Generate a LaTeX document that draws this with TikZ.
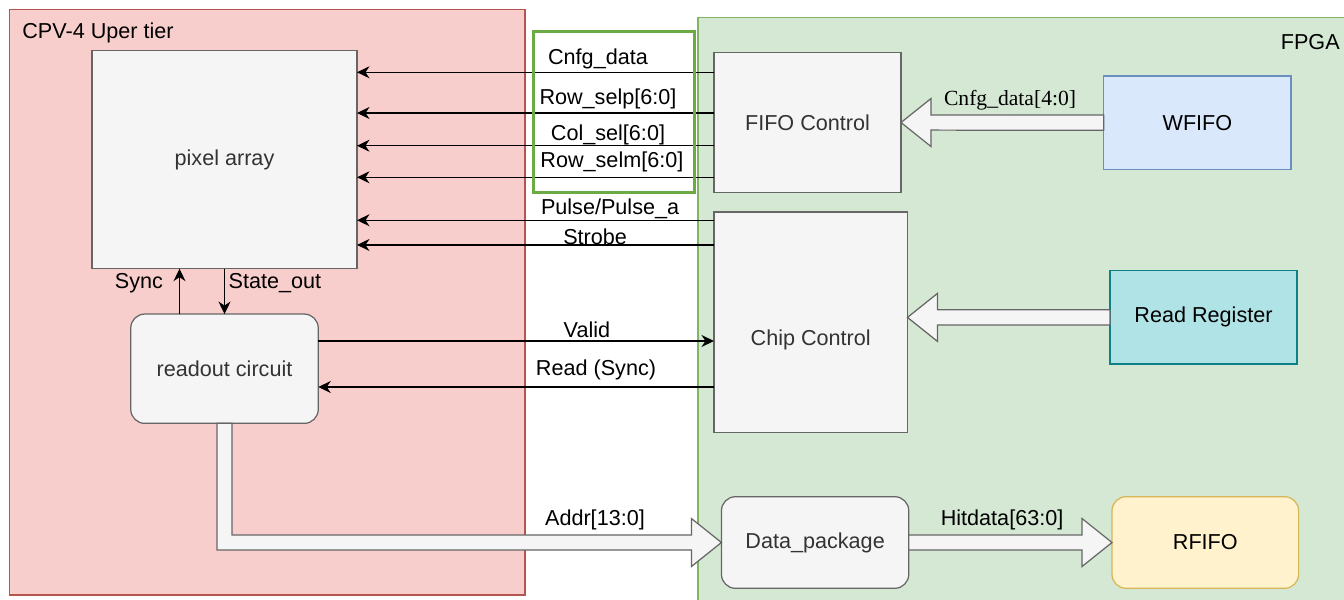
\documentclass[tikz,border=0pt]{standalone}
\usepackage{fontspec}
\setmainfont{Liberation Sans}
\newfontfamily\timesf{Liberation Serif}
\usetikzlibrary{arrows.meta,calc}

\definecolor{tierfill}{HTML}{F8CECC}
\definecolor{tierline}{HTML}{B85450}
\definecolor{fpgafill}{HTML}{D5E8D4}
\definecolor{fpgaline}{HTML}{82B366}
\definecolor{hiline}{RGB}{108,170,68}
\definecolor{boxfill}{HTML}{F5F5F5}
\definecolor{boxline}{HTML}{666666}
\definecolor{boxtext}{HTML}{333333}
\definecolor{wfill}{HTML}{DAE8FC}
\definecolor{wline}{HTML}{6C8EBF}
\definecolor{rfill}{HTML}{B0E3E6}
\definecolor{rline}{HTML}{0E8088}
\definecolor{ffill}{HTML}{FFF2CC}
\definecolor{fline}{HTML}{D6B656}

\newcommand\pxu{0.02cm}
\newcommand\dfont{\fontsize{12.3pt}{14pt}\selectfont}

% hollow wide arrow: start, tip, head length (sign gives direction)
\newcommand\fatarrow[3]{%
  \draw[fat] ($(#1)+(0,-7.6)$) -- ($(#2)+(#3,-7.6)$) -- ($(#2)+(#3,-24)$) -- (#2)
    -- ($(#2)+(#3,24)$) -- ($(#2)+(#3,7.6)$) -- ($(#1)+(0,7.6)$) -- cycle;}

\begin{document}
\begin{tikzpicture}[x=0.02cm,y=-0.02cm,>={Stealth[length=2.5mm,width=2.4mm,inset=0.8mm]},
  gbox/.style={draw=boxline,fill=boxfill,line width=0.7pt,text=boxtext,
    outer sep=0pt,inner sep=0pt,font=\dfont},
  sig/.style={->,line width=0.7pt},
  lbl/.style={font=\dfont,inner sep=0pt},
  fat/.style={draw=boxline,fill=boxfill,line width=0.7pt,line join=miter}]

  \useasboundingbox (0,0) rectangle (1344,599);

  % ================= 区域 =================
  \draw[tierline,fill=tierfill,line width=0.6pt] (9.5,9.5) rectangle (525,595);
  \draw[fpgaline,fill=fpgafill,line width=0.6pt] (698,17.5) rectangle (1350,605);
  \node[lbl,anchor=west] (tier) at (22,33) {CPV-4 Uper tier};
  \node[lbl,anchor=east] (fpga) at (1340,42) {FPGA};

  % ================= 模块 =================
  \node[gbox,minimum width=265*\pxu,minimum height=218*\pxu] (pix) at (224.5,159.7) {pixel array};
  \node[gbox,rounded corners=14*\pxu,minimum width=187.5*\pxu,minimum height=109.3*\pxu]
    (ro) at (224.5,368.7) {readout circuit};

  \node[gbox,minimum width=187*\pxu,minimum height=140.4*\pxu] (fifo) at (807.5,122.5) {FIFO Control};
  \node[gbox,minimum width=193.5*\pxu,minimum height=220.3*\pxu,
    label={[lbl,text=boxtext,yshift=-18*\pxu]center:Chip Control}] (chip) at (810.7,322.1) {};
  \node[gbox,rounded corners=14*\pxu,minimum width=187.3*\pxu,minimum height=91.6*\pxu]
    (dp) at (815.1,542.5) {Data\_package};

  \node[gbox,draw=wline,fill=wfill,text=black,minimum width=187.3*\pxu,minimum height=93.3*\pxu]
    (wf) at (1197.4,122.7) {WFIFO};
  \node[gbox,draw=rline,fill=rfill,text=black,minimum width=187*\pxu,minimum height=93.3*\pxu]
    (rr) at (1203.5,317.4) {Read Register};
  \node[gbox,draw=fline,fill=ffill,text=black,rounded corners=14*\pxu,
    minimum width=186.6*\pxu,minimum height=91.6*\pxu] (rf) at (1205.3,542.5) {RFIFO};

  % ================= 控制信号 =================
  \foreach \dy/\txt/\ps/\lift in {20/Cnfg\_data/0.325/13, 60.7/Row\_selp[6:0]/0.297/13.7,
      93.4/Col\_sel[6:0]/0.297/10.7, 125/Row\_selm[6:0]/0.286/15}
    \draw[sig] ($(fifo.north west)+(0,\dy)$) coordinate (s) -- (pix.east |- s)
      node[lbl,pos=\ps,yshift=\lift*\pxu] {\txt};

  \foreach \dy/\txt/\ps/\lift in {8.3/{Pulse/Pulse\_a}/0.291/11.3, 33/Strobe/0.333/8}
    \draw[sig] ($(chip.north west)+(0,\dy)$) coordinate (s) -- (pix.east |- s)
      node[lbl,pos=\ps,yshift=\lift*\pxu] {\txt};

  \draw[hiline,line width=1.7pt] (533,31.7) rectangle (694,192.7);

  % readout <-> chip control
  \draw[sig] ($(ro.east)+(0,-27.7)$) coordinate (v) -- (chip.west |- v)
    node[lbl,pos=0.679,yshift=11*\pxu] {Valid};
  \draw[sig] ($(chip.west)+(0,64.9)$) coordinate (r) -- (ro.east |- r)
    node[lbl,pos=0.298,yshift=17*\pxu] {Read (Sync)};

  % pixel array <-> readout
  \draw[sig] ($(ro.north)+(-45,0)$) coordinate (sy) -- (pix.south -| sy)
    node[lbl,pos=0.5,anchor=east,xshift=-16*\pxu,yshift=8*\pxu] {Sync};
  \draw[sig] (pix.south) -- (ro.north)
    node[lbl,pos=0.5,anchor=west,xshift=3.5*\pxu,yshift=8*\pxu] {State\_out};

  % ================= 数据通路 =================
  \fatarrow{wf.west}{fifo.east}{30}
  \node[lbl,font=\timesf\dfont] (cfglbl) at ($(wf.west)+(-93.7,-22.7)$) {Cnfg\_data[4:0]};

  \coordinate (rrtip) at (chip.east |- rr.west);
  \fatarrow{rr.west}{rrtip}{30}

  \fatarrow{dp.east}{rf.west}{-30}
  \node[lbl] (hitlbl) at ($(dp.east)+(93.3,-22.5)$) {Hitdata[63:0]};

  \coordinate (bend) at (ro.south |- dp.west);
  \draw[fat] ($(ro.south)+(-7.6,0)$) -- ($(bend)+(-7.6,7.6)$) -- ($(dp.west)+(-30,7.6)$)
    -- ($(dp.west)+(-30,24)$) -- (dp.west) -- ($(dp.west)+(-30,-24)$)
    -- ($(dp.west)+(-30,-7.6)$) -- ($(bend)+(7.6,-7.6)$) -- ($(ro.south)+(7.6,0)$) -- cycle;
  \node[lbl] (addrlbl) at ($(dp.west)+(-126.5,-22.5)$) {Addr[13:0]};

\end{tikzpicture}
\end{document}
